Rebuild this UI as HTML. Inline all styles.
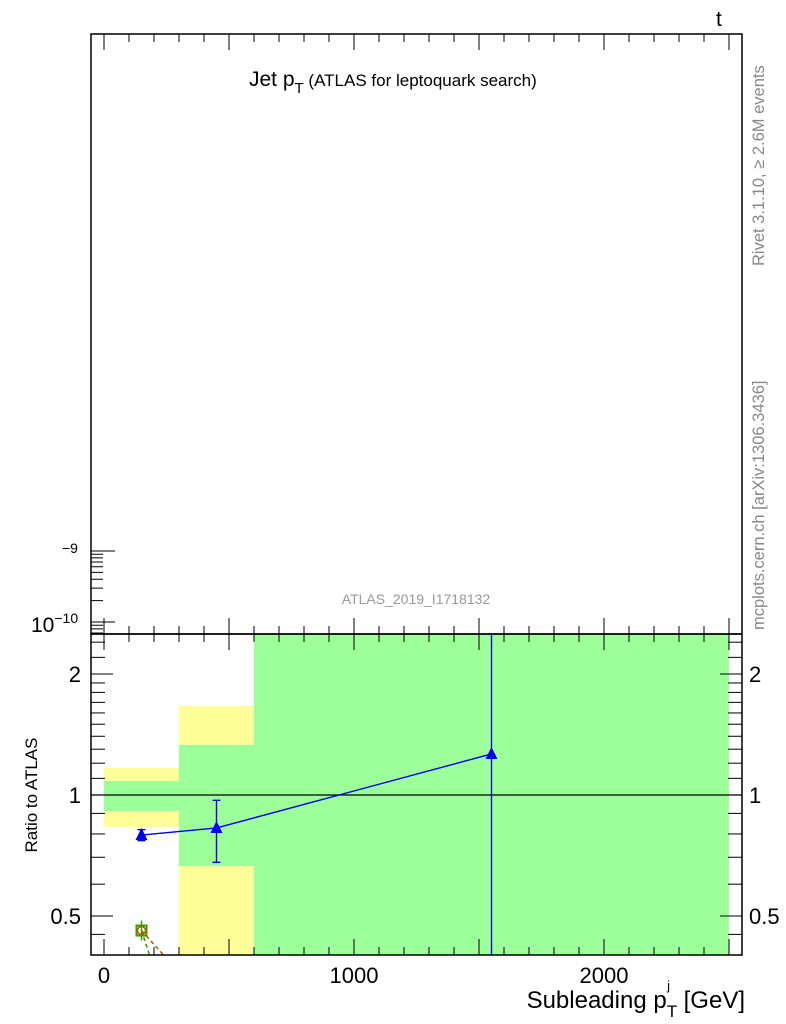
<!DOCTYPE html>
<html><head><meta charset="utf-8"><style>
html,body{margin:0;padding:0;background:#fff;}
svg{display:block;font-family:"Liberation Sans",sans-serif;}
</style></head><body>
<svg id="c" width="786" height="1024" viewBox="0 0 786 1024" xmlns="http://www.w3.org/2000/svg">
<rect x="0" y="0" width="786" height="1024" fill="#fff"/>
<g id="bands"></g>
<g id="marks"></g>
<g id="axes" stroke="#000" fill="none"></g>
<text x="249" y="86" font-size="21">Jet p<tspan font-size="15" dy="7">T</tspan><tspan dy="-7" font-size="17"> (ATLAS for leptoquark search)</tspan></text>
<text x="716" y="26" font-size="21">t</text>
<text x="416" y="604" font-size="14" fill="#999" text-anchor="middle">ATLAS_2019_I1718132</text>
<text transform="translate(764,266) rotate(-90)" font-size="16.5" fill="#888">Rivet 3.1.10, ≥ 2.6M events</text>
<text transform="translate(764,630) rotate(-90)" font-size="16.5" fill="#888">mcplots.cern.ch [arXiv:1306.3436]</text>
<text x="31" y="632" font-size="21">10<tspan font-size="14" dy="-9">−10</tspan></text>
<text x="62" y="553" font-size="14">−9</text>
<text transform="translate(37,795) rotate(-90)" font-size="17" text-anchor="middle">Ratio to ATLAS</text>
<text x="745" y="1008" font-size="24" text-anchor="end">Subleading p<tspan font-size="17" dy="9">T</tspan><tspan font-size="13" dx="-10" dy="-27">j</tspan><tspan dy="18" dx="7"> [GeV]</tspan></text>
</svg>
<script>
const binEdges=[0,300,600,2500];
const yellowHi=[1.167,1.665,3.0];
const yellowLo=[0.833,0.30,0.30];
const greenHi=[1.083,1.332,3.0];
const greenLo=[0.912,0.666,0.30];
const ptX=[150,450,1550];
const ptY=[0.795,0.828,1.265];
const ptErrHi=[0.82,0.97,3.0];
const ptErrLo=[0.77,0.68,0.30];
const mcX=[150];
const mcY=[0.46];
const xTicks=[0,1000,2000];
const yTicks=[0.5,1,2];
const L=91,R=742,T=34,M=634,B=955;
const X=v=>104+v*0.25;
const Y=v=>795-Math.log2(v)*121;
const cy=v=>Math.max(M,Math.min(B,Y(v)));
const NS="http://www.w3.org/2000/svg";
function mk(p,t,a){const e=document.createElementNS(NS,t);for(const k in a)e.setAttribute(k,a[k]);document.getElementById(p).appendChild(e);return e;}
for(let i=0;i<binEdges.length-1;i++){
 let e=mk('bands','rect',{x:X(binEdges[i]),y:cy(yellowHi[i]),width:X(binEdges[i+1])-X(binEdges[i]),height:cy(yellowLo[i])-cy(yellowHi[i]),fill:'#ffff99'});
 
 
 let g=mk('bands','rect',{x:X(binEdges[i]),y:cy(greenHi[i]),width:X(binEdges[i+1])-X(binEdges[i]),height:cy(greenLo[i])-cy(greenHi[i]),fill:'#9cff99'});
 
 
}
let ref=mk('marks','line',{x1:L,x2:R,y1:Y(1),y2:Y(1),stroke:'#000','stroke-width':1.3});


let pts=ptX.map((x,i)=>X(x)+','+Y(ptY[i])).join(' ');
let pl=mk('marks','polyline',{points:pts,fill:'none',stroke:'#0000ee','stroke-width':1.4});


ptX.forEach((x,i)=>{
 const px=X(x),py=Y(ptY[i]);
 let eb=mk('marks','line',{x1:px,x2:px,y1:cy(ptErrHi[i]),y2:cy(ptErrLo[i]),stroke:'#0000ee','stroke-width':1.4});
 
 
 [ptErrHi[i],ptErrLo[i]].forEach(v=>{if(Y(v)>M&&Y(v)<B){let c=mk('marks','line',{x1:px-4,x2:px+4,y1:Y(v),y2:Y(v),stroke:'#0000ee','stroke-width':1.4});}});
 let tri=mk('marks','polygon',{points:`${px-6},${py+5} ${px+6},${py+5} ${px},${py-7}`,fill:'#0000ee'});
 
 
});
mcX.forEach((x,i)=>{
 const px=X(x),py=Y(mcY[i]);
 let d1=mk('marks','line',{x1:px,y1:py,x2:px+22,y2:B,stroke:'#b05a00','stroke-width':1.5,'stroke-dasharray':'4,3'});
 
 
 let d2=mk('marks','line',{x1:px,y1:py,x2:px+8,y2:B,stroke:'#3a9a00','stroke-width':1.5,'stroke-dasharray':'4,3'});
 
 
 let eb=mk('marks','line',{x1:px,x2:px,y1:py-10,y2:py+10,stroke:'#3a9a00','stroke-width':1.5});
 
 
 let sq=mk('marks','rect',{x:px-5,y:py-5,width:10,height:10,fill:'none',stroke:'#3a9a00','stroke-width':2});
 
 
 let ci=mk('marks','circle',{cx:px,cy:py,r:4,fill:'none',stroke:'#b05a00','stroke-width':1.5});
 
 
});
let f1=mk('axes','rect',{x:L,y:T,width:R-L,height:M-T,'stroke-width':1.5});


let f2=mk('axes','rect',{x:L,y:M,width:R-L,height:B-M,'stroke-width':1.5});


for(let v=0;v<=2500;v+=100){
 const major=v%500===0, len=major?16:8;
 [[T,1],[M,-1],[M,1],[B,-1]].forEach(([y0,s])=>{let t=mk('axes','line',{x1:X(v),x2:X(v),y1:y0,y2:y0+s*len,'stroke-width':1});});
}
xTicks.forEach(v=>{let t=mk('axes','text',{x:X(v),y:983,'font-size':22,'text-anchor':'middle',fill:'#000',stroke:'none'});t.textContent=v;});
const minor=[0.45,0.6,0.7,0.8,0.9,1.1,1.2,1.3,1.4,1.5,1.6,1.7,1.8,1.9,2.2,2.4];
minor.concat(yTicks).forEach(v=>{const maj=yTicks.includes(v),len=maj?22:14;
 [[L,1],[R,-1]].forEach(([x0,s])=>{let t=mk('axes','line',{x1:x0,x2:x0+s*len,y1:Y(v),y2:Y(v),'stroke-width':1});});});
yTicks.forEach(v=>{[[81,'end'],[749,'start']].forEach(([x,a])=>{let t=mk('axes','text',{x:x,y:Y(v)+8,'font-size':22,'text-anchor':a,fill:'#000',stroke:'none'});t.textContent=v;});});
const decade=71;
[622,551].forEach(y=>{let t=mk('axes','line',{x1:L,x2:L+24,y1:y,y2:y,'stroke-width':1});});
[2,3,4,5,6,7,8,9].forEach(k=>{const y=622-Math.log10(k)*decade;let t=mk('axes','line',{x1:L,x2:L+12,y1:y,y2:y,'stroke-width':1});});
[0.6,0.7,0.8,0.9].forEach(k=>{const y=622-Math.log10(k)*decade;if(y<M){let t=mk('axes','line',{x1:L,x2:L+12,y1:y,y2:y,'stroke-width':1});}});
</script>
</body></html>
